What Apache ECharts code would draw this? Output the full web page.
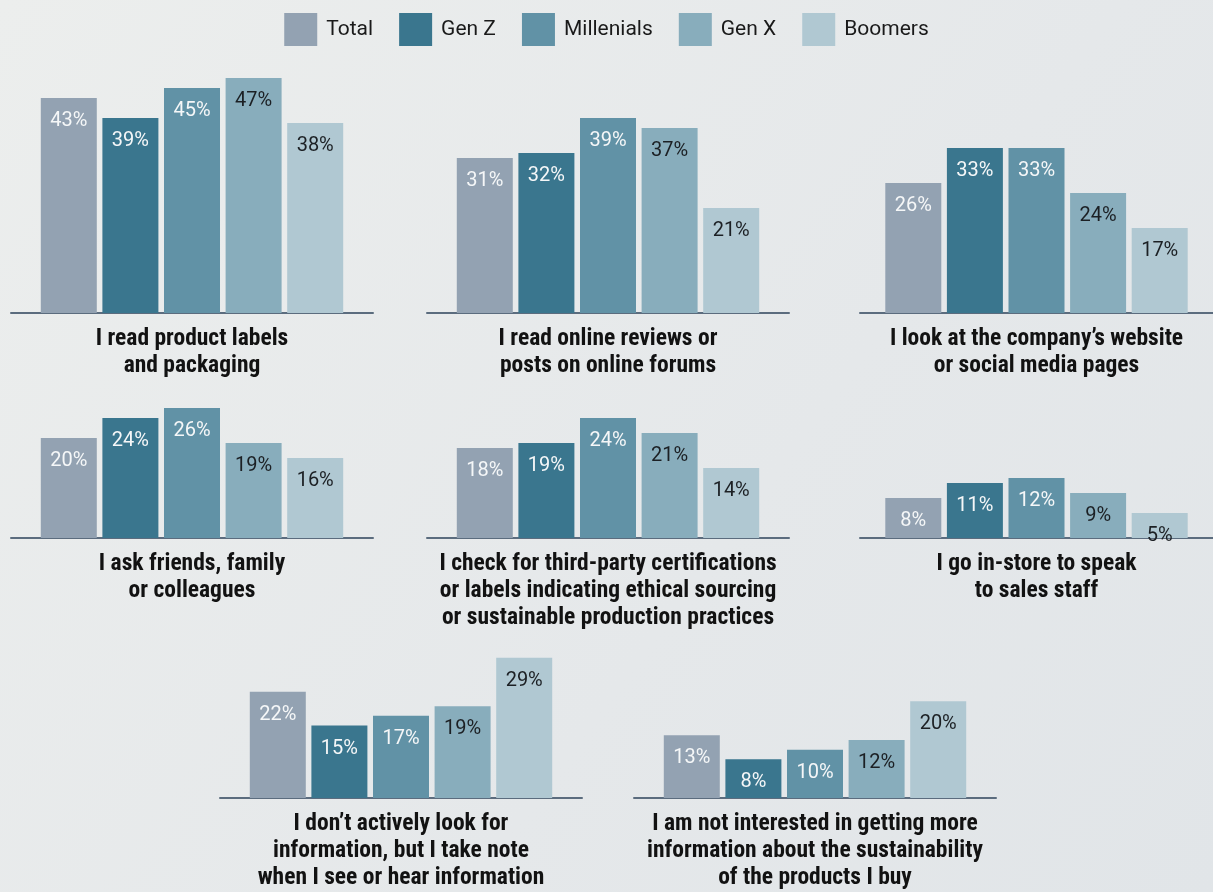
<!DOCTYPE html>
<html>
<head>
<meta charset="utf-8">
<script src="https://cdn.jsdelivr.net/npm/echarts@6/dist/echarts.min.js"></script>
<style>
  html, body { margin: 0; padding: 0; }
  #chart { width: 1213px; height: 892px; }
</style>
</head>
<body>
<div id="chart"></div>
<script>
// questions, one per small panel
const questions = [
  "I read product labels\nand packaging",
  "I read online reviews or\nposts on online forums",
  "I look at the company\u2019s website\nor social media pages",
  "I ask friends, family\nor colleagues",
  "I check for third-party certifications\nor labels indicating ethical sourcing\nor sustainable production practices",
  "I go in-store to speak\nto sales staff",
  "I don\u2019t actively look for\ninformation, but I take note\nwhen I see or hear information",
  "I am not interested in getting more\ninformation about the sustainability\nof the products I buy"
];
const groups = ["Total", "Gen Z", "Millenials", "Gen X", "Boomers"];

// percentages per group, same order as questions
const total      = [43, 31, 26, 20, 18, 8, 22, 13];
const genZ       = [39, 32, 33, 24, 19, 11, 15, 8];
const millenials = [45, 39, 33, 26, 24, 12, 17, 10];
const genX       = [47, 37, 24, 19, 21, 9, 19, 12];
const boomers    = [38, 21, 17, 16, 14, 5, 29, 20];

const values = [total, genZ, millenials, genX, boomers];
const colors = ["#93a2b2", "#3a768e", "#6192a6", "#88adbc", "#b0c8d2"];
const labelColors = ["#f5f7f8", "#f5f7f8", "#f5f7f8", "#1c2024", "#1c2024"];

// panel layout: left edge of baseline, width, baseline y, y max
const PX_PER_PCT = 5;
const panels = [
  { left: 11,  width: 362, base: 313, max: 50 },
  { left: 427, width: 362, base: 313, max: 50 },
  { left: 860, width: 357, base: 313, max: 50 },
  { left: 11,  width: 362, base: 538, max: 30 },
  { left: 427, width: 362, base: 538, max: 30 },
  { left: 860, width: 357, base: 538, max: 30 },
  { left: 220, width: 362, base: 803, max: 30 },
  { left: 634, width: 362, base: 803, max: 30 }
];

const titleFont = '"Roboto Condensed", "Liberation Sans Narrow", "DejaVu Sans Condensed", Roboto, sans-serif';

const grid = [], xAxis = [], yAxis = [], series = [];

panels.forEach((p, i) => {
  const h = p.max * PX_PER_PCT;
  grid.push({ left: p.left, top: p.base - h, width: p.width, height: h });
  xAxis.push({
    type: "category",
    gridIndex: i,
    data: [questions[i]],
    axisTick: { show: false },
    axisLine: { lineStyle: { color: "#5b6c7e", width: 2 } },
    axisLabel: {
      margin: 13,
      fontFamily: titleFont,
      fontWeight: "bold",
      fontSize: 23.5,
      lineHeight: 27,
      color: "#121212",
      align: "center"
    }
  });
  yAxis.push({ type: "value", gridIndex: i, min: 0, max: p.max, show: false });

  groups.forEach((g, k) => {
    series.push({
      name: g,
      type: "bar",
      xAxisIndex: i,
      yAxisIndex: i,
      data: [values[k][i]],
      barWidth: 56,
      barGap: "10%",
      itemStyle: { color: colors[k] },
      label: {
        show: true,
        position: "insideTop",
        distance: 13,
        formatter: "{c}%",
        fontFamily: "Roboto, sans-serif",
        fontSize: 20,
        color: labelColors[k]
      },
      silent: true,
      animation: false
    });
  });
});

const chart = echarts.init(document.getElementById("chart"));
chart.setOption({
  backgroundColor: {
    type: "linear", x: 0, y: 0, x2: 1, y2: 1,
    colorStops: [
      { offset: 0, color: "#eceeed" },
      { offset: 0.6, color: "#e5e8ea" },
      { offset: 1, color: "#e1e5e8" }
    ]
  },
  legend: {
    top: 8,
    left: "center",
    data: groups,
    itemWidth: 33,
    itemHeight: 33,
    itemGap: 26,
    icon: "rect",
    selectedMode: false,
    textStyle: {
      fontFamily: "Roboto, sans-serif",
      fontSize: 21,
      color: "#1a1a1a",
      padding: [0, 0, 0, 4]
    }
  },
  grid: grid,
  xAxis: xAxis,
  yAxis: yAxis,
  series: series
});
</script>
</body>
</html>
